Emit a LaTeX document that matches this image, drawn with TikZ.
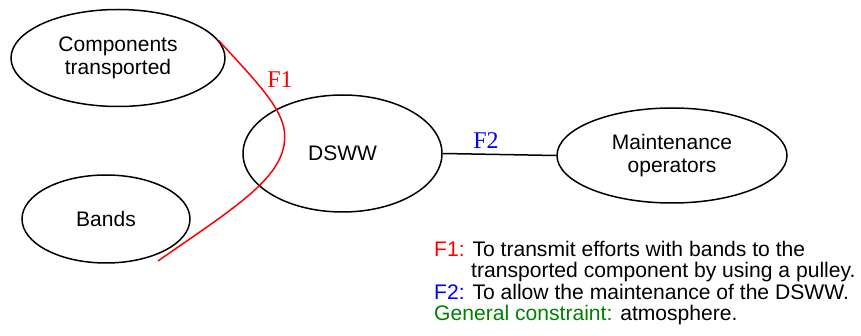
\documentclass[tikz,border=0pt]{standalone}
\usepackage{fontspec}
\setmainfont{Liberation Sans}
\newfontfamily\serifF{Liberation Serif}
\usetikzlibrary{shapes.geometric}
\definecolor{cgreen}{RGB}{0,128,0}
\begin{document}
\begin{tikzpicture}[x=1pt,y=-1pt,
  ell/.style={draw=black,line width=1.5pt,ellipse,inner sep=0pt,align=center,
    font=\fontsize{21}{23}\selectfont},
  flab/.style={font=\serifF\fontsize{24}{24}\selectfont,inner sep=0pt},
  leg/.style={anchor=base west,inner sep=0pt,font=\fontsize{21.1}{21.3}\selectfont}]
\useasboundingbox (0,0) rectangle (861,336);
\node[ell,minimum width=214pt,minimum height=97pt] (comp) at (118,58) {Components\\transported};
\node[ell,minimum width=199pt,minimum height=117pt] (dsww) at (342.5,153.5) {DSWW};
\node[ell,minimum width=168pt,minimum height=88pt] (bands) at (106,219) {Bands};
\node[ell,minimum width=230pt,minimum height=95pt] (maint) at (672,155.5) {Maintenance\\operators};
\coordinate (f1end) at (158,261);
\draw[red,line width=1.5pt] (comp.10) .. controls (262,88) and (290,115) .. (284,145)
  .. controls (278,182) and (228,212) .. (f1end);
\draw[black,line width=1.5pt] (dsww.east) -- (maint.west);
\node[flab,red] (f1) at (280,80) {F1};
\node[flab,blue] (f2) at (486,141) {F2};
\node[leg] (l1) at (434,256.7) {\textcolor{red}{F1:} To transmit efforts with bands to the};
\node[leg] (l2) at (471,278) {transported component by using a pulley.};
\node[leg] (l3) at (434,299.5) {\textcolor{blue}{F2:} To allow the maintenance of the DSWW.};
\node[leg] (l4) at (434,320.7) {\textcolor{cgreen}{General constraint:} atmosphere.};
\end{tikzpicture}
\end{document}
